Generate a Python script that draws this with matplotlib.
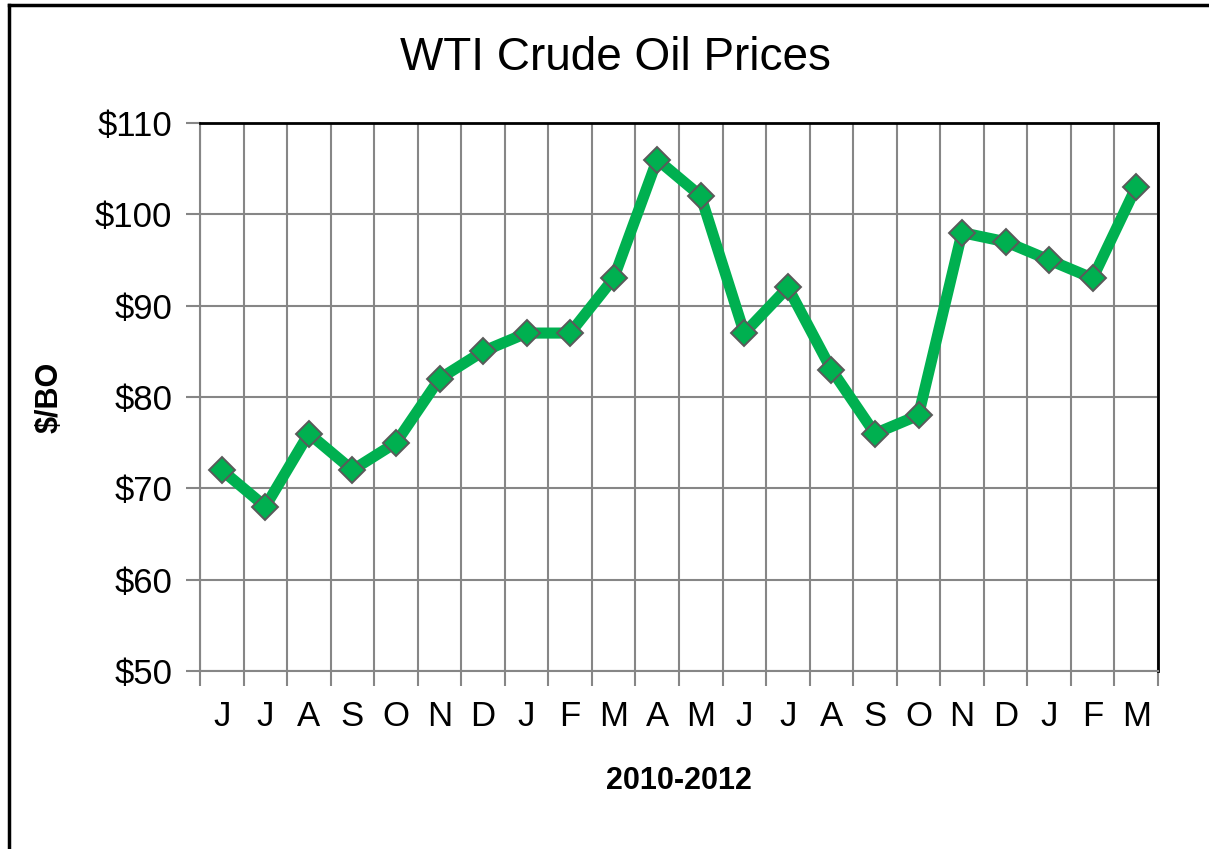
import matplotlib
matplotlib.use("Agg")
import matplotlib.pyplot as plt
from matplotlib.lines import Line2D
import numpy as np

months = ["J", "J", "A", "S", "O", "N", "D", "J", "F", "M", "A", "M",
          "J", "J", "A", "S", "O", "N", "D", "J", "F", "M"]
prices = [72, 68, 76, 72, 75, 82, 85, 87, 87, 93, 106, 102,
          87, 92, 83, 76, 78, 98, 97, 95, 93, 103]
yticks = [50, 60, 70, 80, 90, 100, 110]
ytick_labels = ["$50", "$60", "$70", "$80", "$90", "$100", "$110"]

plt.rcParams['font.family'] = ['Liberation Sans', 'DejaVu Sans']

W, H = 1209, 849
fig = plt.figure(figsize=(W / 100, H / 100), dpi=100)
ax = fig.add_axes([200 / W, 1 - 671 / H, (1158 - 200) / W, (671 - 123) / H])

grid_c = "#868686"
x = np.arange(len(months))
ax.plot(x, prices, color="#00B050", lw=8, marker="D", ms=13,
        mfc="#00B050", mec="#5a5a5a", mew=1.4, zorder=5, clip_on=False,
        solid_joinstyle="round")

ax.set_xlim(-0.5, len(months) - 0.5)
ax.set_ylim(50, 110)

# boundaries as major ticks (grid), centers as minor ticks (labels)
ax.set_xticks(np.arange(-0.5, len(months)))
ax.set_xticklabels([])
ax.set_xticks(x, minor=True)
ax.set_xticklabels(months, minor=True, fontsize=25)
ax.tick_params(axis="x", which="major", length=11, width=1.5, color=grid_c, direction="out")
ax.tick_params(axis="x", which="minor", length=0, pad=21)

ax.set_yticks(yticks)
ax.set_yticklabels(ytick_labels, fontsize=25)
ax.tick_params(axis="y", length=10, width=1.5, color=grid_c, pad=10)

ax.grid(True, which="major", color=grid_c, lw=1.5, zorder=0)
ax.set_axisbelow(True)

for s in ["left", "bottom"]:
    ax.spines[s].set_color(grid_c)
    ax.spines[s].set_linewidth(1.5)
for s in ["top", "right"]:
    ax.spines[s].set_color("black")
    ax.spines[s].set_linewidth(2)

fig.text(615 / W, 1 - 70 / H, "WTI Crude Oil Prices", fontsize=33,
         ha="center", va="baseline")
ax.set_xlabel("2010-2012", fontsize=22, fontweight="bold", labelpad=23.5)
ax.set_ylabel("$/BO", fontsize=22, fontweight="bold", labelpad=22)

# outer frame (left and top edges only)
fig.add_artist(Line2D([9 / W, 9 / W], [0, 1 - 5 / H], color="black", lw=2.5,
                      transform=fig.transFigure))
fig.add_artist(Line2D([9 / W, 1], [1 - 5 / H, 1 - 5 / H], color="black", lw=2.5,
                      transform=fig.transFigure))

fig.savefig("out.png", dpi=100, facecolor="white")
